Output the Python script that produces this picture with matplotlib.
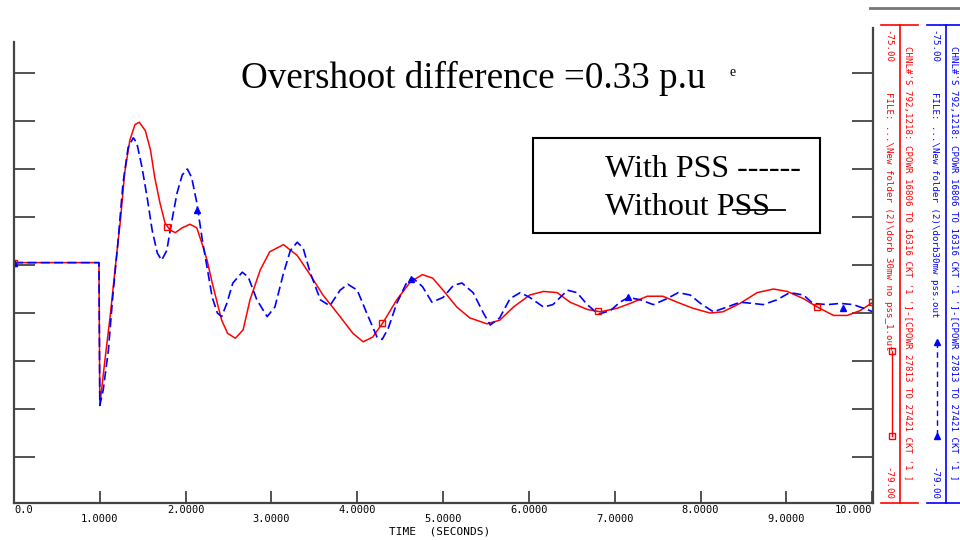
# Rotor angle / power flow response with and without PSS (PSS/E style plot)

import matplotlib.pyplot as plt
from matplotlib.lines import Line2D
from matplotlib.patches import Rectangle

# Without PSS (red, solid)
t_nopss = [0.0, 0.99, 1.0, 1.06, 1.12, 1.18, 1.24, 1.29, 1.35, 1.41, 1.46, 1.53, 1.59, 1.64,
           1.70, 1.76, 1.82, 1.88, 1.96, 2.05, 2.13, 2.19, 2.25, 2.31, 2.37, 2.42, 2.49, 2.58,
           2.67, 2.75, 2.87, 2.98, 3.14, 3.30, 3.45, 3.60, 3.80, 3.95, 4.07, 4.18, 4.30, 4.46,
           4.62, 4.76, 4.88, 5.00, 5.16, 5.31, 5.51, 5.66, 5.82, 6.01, 6.17, 6.33, 6.48, 6.68,
           6.83, 7.03, 7.18, 7.38, 7.56, 7.73, 7.91, 8.11, 8.26, 8.46, 8.66, 8.85, 9.01, 9.20,
           9.36, 9.55, 9.71, 9.86, 10.01]
p_nopss = [-76.98, -76.98, -78.17, -77.79, -77.43, -77.02, -76.63, -76.23, -75.96, -75.83,
           -75.81, -75.88, -76.04, -76.27, -76.48, -76.65, -76.71, -76.73, -76.69, -76.66,
           -76.69, -76.82, -76.96, -77.15, -77.32, -77.46, -77.57, -77.61, -77.54, -77.29,
           -77.04, -76.89, -76.83, -76.92, -77.08, -77.25, -77.43, -77.57, -77.64, -77.60,
           -77.48, -77.29, -77.14, -77.08, -77.11, -77.21, -77.35, -77.44, -77.49, -77.46,
           -77.35, -77.25, -77.22, -77.23, -77.31, -77.37, -77.39, -77.36, -77.32, -77.26,
           -77.26, -77.31, -77.36, -77.40, -77.39, -77.32, -77.23, -77.20, -77.22, -77.28,
           -77.35, -77.42, -77.42, -77.38, -77.31]

# With PSS (blue, dashed)
t_pss = [0.0, 0.99, 1.0, 1.04, 1.10, 1.15, 1.21, 1.27, 1.33, 1.39, 1.43, 1.49, 1.55, 1.61,
         1.67, 1.72, 1.78, 1.84, 1.90, 1.96, 2.02, 2.07, 2.13, 2.19, 2.25, 2.31, 2.37, 2.42,
         2.48, 2.55, 2.66, 2.73, 2.83, 2.95, 3.04, 3.14, 3.22, 3.30, 3.37, 3.45, 3.57, 3.68,
         3.80, 3.89, 4.00, 4.11, 4.23, 4.29, 4.36, 4.46, 4.58, 4.65, 4.76, 4.87, 5.00, 5.12,
         5.22, 5.35, 5.47, 5.55, 5.66, 5.78, 5.90, 6.01, 6.17, 6.28, 6.45, 6.56, 6.68, 6.81,
         6.95, 7.06, 7.16, 7.30, 7.45, 7.61, 7.74, 7.88, 8.00, 8.15, 8.31, 8.46, 8.61, 8.73,
         8.89, 9.04, 9.20, 9.31, 9.48, 9.63, 9.78, 9.90, 10.01]
p_pss = [-76.98, -76.98, -78.17, -78.04, -77.71, -77.27, -76.82, -76.32, -76.02, -75.94,
         -75.98, -76.18, -76.43, -76.71, -76.90, -76.96, -76.88, -76.63, -76.40, -76.25,
         -76.20, -76.27, -76.48, -76.77, -77.02, -77.27, -77.40, -77.43, -77.32, -77.15,
         -77.06, -77.10, -77.29, -77.43, -77.35, -77.07, -76.88, -76.81, -76.86, -77.06,
         -77.29, -77.34, -77.21, -77.16, -77.21, -77.40, -77.60, -77.62, -77.53, -77.32,
         -77.14, -77.11, -77.18, -77.31, -77.27, -77.17, -77.15, -77.23, -77.40, -77.50,
         -77.44, -77.28, -77.23, -77.27, -77.35, -77.33, -77.21, -77.23, -77.33, -77.41,
         -77.38, -77.31, -77.27, -77.29, -77.33, -77.28, -77.23, -77.25, -77.32, -77.39,
         -77.35, -77.31, -77.32, -77.33, -77.29, -77.23, -77.25, -77.32, -77.33, -77.32,
         -77.33, -77.36, -77.39]

# channel symbols placed along each trace
t_mark_nopss = [0.0, 1.78, 4.29, 6.81, 9.36, 10.0]
p_mark_nopss = [-76.98, -76.68, -77.48, -77.38, -77.35, -77.31]
t_mark_pss = [0.0, 2.13, 4.63, 7.16, 9.66]
p_mark_pss = [-76.98, -76.54, -77.12, -77.27, -77.36]

# even ticks labelled on the upper row, odd ticks on the lower row
x_ticks_even = [0, 2, 4, 6, 8, 10]
x_labels_even = ["0.0", "2.0000", "4.0000", "6.0000", "8.0000", "10.000"]
x_ticks_odd = [1, 3, 5, 7, 9]
x_labels_odd = ["1.0000", "3.0000", "5.0000", "7.0000", "9.0000"]
y_ticks = [-78.6, -78.2, -77.8, -77.4, -77.0, -76.6, -76.2, -75.8, -75.4]

W, H = 960, 540


def fx(x):
    return x / W


def fy(y):
    return 1 - y / H


fig = plt.figure(figsize=(9.6, 5.4), dpi=100)
ax = fig.add_axes([fx(14), fy(503), fx(873) - fx(14), fy(28) - fy(503)])

ax.plot(t_nopss, p_nopss, color='red', lw=1.1)
ax.plot(t_pss, p_pss, color='blue', lw=1.2, linestyle=(0, (5.5, 2.5)))
ax.plot(t_mark_nopss, p_mark_nopss, 's', mfc='none', mec='red', ms=4.5, mew=1)
ax.plot(t_mark_pss, p_mark_pss, '^', color='blue', ms=4)

ax.set_xlim(0, 10.01)
ax.set_ylim(-78.983, -75.025)

ax.spines['top'].set_visible(False)
for s in ['left', 'right', 'bottom']:
    ax.spines[s].set_color('#444444')
    ax.spines[s].set_linewidth(1.6)
ax.spines['left'].set_bounds(-78.983, -75.142)

ax.set_xticks(x_ticks_even)
ax.set_xticklabels(x_labels_even, family='DejaVu Sans Mono', fontsize=7.5)
ax.set_xticks(x_ticks_odd, minor=True)
ax.set_xticklabels(x_labels_odd, minor=True, family='DejaVu Sans Mono', fontsize=7.5)
ax.get_xticklabels()[0].set_ha('left')
ax.get_xticklabels()[-1].set_ha('right')
ax.tick_params(axis='x', which='major', direction='in', length=9, width=1.3,
               color='#444444', pad=1.5)
ax.tick_params(axis='x', which='minor', direction='in', length=9, width=1.3,
               color='#444444', pad=8)

ax.set_yticks(y_ticks)
ax.set_yticklabels([])
ax.tick_params(axis='y', direction='in', length=15, width=1.3, color='#444444',
               left=True, right=True)

fig.text(fx(440), fy(531), "TIME  (SECONDS)", family='DejaVu Sans Mono', fontsize=8,
         ha='center', va='center')

# annotation and hand-made legend
serif = ['Liberation Serif', 'DejaVu Serif']
fig.text(fx(241), fy(88), "Overshoot difference =0.33 p.u", family=serif, fontsize=26.7,
         ha='left', va='baseline')
fig.text(fx(733), fy(73), "e", family=serif, fontsize=10, ha='center', va='center')

fig.add_artist(Rectangle((fx(533), fy(233)), fx(820) - fx(533), fy(138) - fy(233),
                         transform=fig.transFigure, fill=False, ec='black', lw=1.5))
fig.text(fx(605), fy(177), "With PSS ------", family=serif, fontsize=23, va='baseline')
fig.text(fx(605), fy(215), "Without PSS", family=serif, fontsize=23, va='baseline')
fig.add_artist(Line2D([fx(733), fx(785)], [fy(210), fy(210)], transform=fig.transFigure,
                      color='black', lw=1.3))

# PSS/E channel panel on the right
fig.add_artist(Line2D([fx(870), fx(960)], [fy(8), fy(8)], transform=fig.transFigure,
                      color='#777777', lw=2))
for col, xa, xb, xv in [('red', 881, 918, 900), ('blue', 927, 960, 946)]:
    fig.add_artist(Line2D([fx(xa), fx(xb)], [fy(25), fy(25)], transform=fig.transFigure, color=col, lw=1.2))
    fig.add_artist(Line2D([fx(xa), fx(xb)], [fy(503), fy(503)], transform=fig.transFigure, color=col, lw=1.2))
    fig.add_artist(Line2D([fx(xv), fx(xv)], [fy(25), fy(503)], transform=fig.transFigure, color=col, lw=1.2))

mono = dict(family='DejaVu Sans Mono', fontsize=6.6, rotation=270, ha='center')
chnl = "CHNL#'S 792,1218: CPOWR 16806 TO 16316 CKT '1 ']-[CPOWR 27813 TO 27421 CKT '1 ]"

fig.text(fx(888), fy(30), "-75.00", color='red', va='top', **mono)
fig.text(fx(888), fy(92), "FILE: ...\\New folder (2)\\dorb 30mw no pss_1.out", color='red', va='top', **mono)
fig.text(fx(888), fy(500), "-79.00", color='red', va='bottom', **mono)
fig.text(fx(908), fy(46), chnl, color='red', va='top', **mono)
fig.add_artist(Line2D([fx(892), fx(892)], [fy(351), fy(436)], transform=fig.transFigure,
                      color='red', lw=1, marker='s', mfc='none', ms=4.5))

fig.text(fx(934), fy(30), "-75.00", color='blue', va='top', **mono)
fig.text(fx(934), fy(92), "FILE: ...\\New folder (2)\\dorb30mw pss.out", color='blue', va='top', **mono)
fig.text(fx(934), fy(500), "-79.00", color='blue', va='bottom', **mono)
fig.text(fx(954), fy(46), chnl, color='blue', va='top', **mono)
fig.add_artist(Line2D([fx(937), fx(937)], [fy(342), fy(436)], transform=fig.transFigure,
                      color='blue', lw=1, linestyle=(0, (4, 3)), marker='^', ms=4))

plt.savefig("out.png", dpi=100)
